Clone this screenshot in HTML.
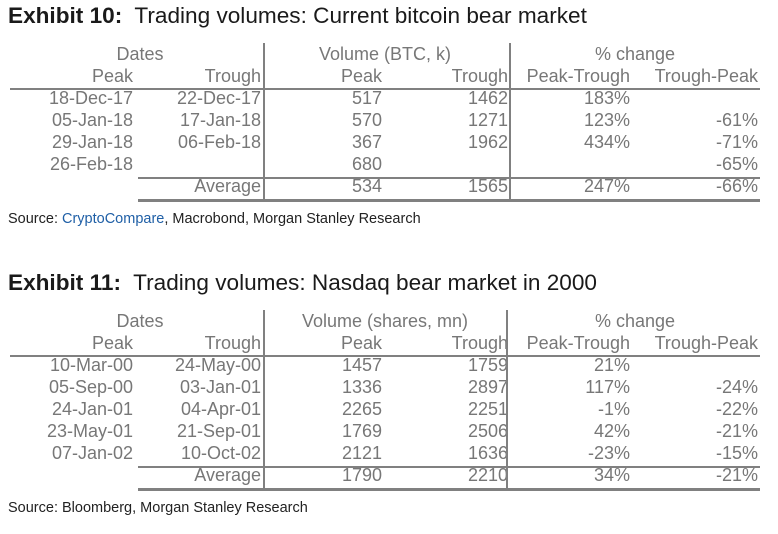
<!DOCTYPE html>
<html><head><meta charset="utf-8"><style>
body{margin:0;background:#fff;width:778px;height:534px;position:relative;overflow:hidden;font-family:"Liberation Sans",sans-serif}
.t{position:absolute;white-space:nowrap;font-size:18px;color:#777;line-height:20px}
.ttl{position:absolute;left:8px;font-size:22.6px;color:#1a1a1a;white-space:nowrap;line-height:24px}
.ttl b{font-weight:bold}
.src{position:absolute;left:8px;font-size:14.5px;color:#222;line-height:16px}
.ln{position:absolute;background:#808080}
</style></head><body>
<div class="ttl" style="top:4px"><b>Exhibit 10:</b>&nbsp; Trading volumes: Current bitcoin bear market</div>
<div class="src" style="top:211px">Source: <span style="color:#1f5fa6">CryptoCompare</span>, Macrobond, Morgan Stanley Research</div>
<div class="ttl" style="top:271px"><b>Exhibit 11:</b>&nbsp; Trading volumes: Nasdaq bear market in 2000</div>
<div class="src" style="top:500px">Source: Bloomberg, Morgan Stanley Research</div>
<div id="root"></div>
<script>
const colRight=[133,261,382,508,630,758];
const t1Rows=[["18-Dec-17","22-Dec-17","517","1462","183%",""],["05-Jan-18","17-Jan-18","570","1271","123%","-61%"],["29-Jan-18","06-Feb-18","367","1962","434%","-71%"],["26-Feb-18","","680","","","-65%"]];
const t1Avg=["","Average","534","1565","247%","-66%"];
const t2Rows=[["10-Mar-00","24-May-00","1457","1759","21%",""],["05-Sep-00","03-Jan-01","1336","2897","117%","-24%"],["24-Jan-01","04-Apr-01","2265","2251","-1%","-22%"],["23-May-01","21-Sep-01","1769","2506","42%","-21%"],["07-Jan-02","10-Oct-02","2121","1636","-23%","-15%"]];
const t2Avg=["","Average","1790","2210","34%","-21%"];
const sub=["Peak","Trough","Peak","Trough","Peak-Trough","Trough-Peak"];
const body=document.body;
function txt(s,x,y,align,name){
  const d=document.createElement('div');d.className='t';d.textContent=s;
  
  
  if(align==='r'){d.style.right=(778-x)+'px';}
  else{d.style.left=(x-200)+'px';d.style.width='400px';d.style.textAlign='center';}
  d.style.top=(y-10)+'px';body.appendChild(d);}
function ln(x,y,w,h,name){
  const d=document.createElement('div');d.className='ln';
  
  
  d.style.left=x+'px';d.style.top=y+'px';d.style.width=w+'px';d.style.height=h+'px';body.appendChild(d);}
function table(top,rows,avg,volLabel,prefix,vx2){
  txt("Dates",140,top,'c',prefix+'-dates-header');
  txt(volLabel,385,top,'c',prefix+'-volume-header');
  txt("% change",635,top,'c',prefix+'-change-header');
  sub.forEach((s,i)=>txt(s,colRight[i],top+22,'r',prefix+'-subheader'));
  const hl=top+34;
  ln(10,hl,750,2,prefix+'-header-rule');
  rows.forEach((r,j)=>r.forEach((c,i)=>{if(c)txt(c,colRight[i],top+44+j*22,'r',prefix+'-cell');}));
  const ay=top+44+rows.length*22;
  avg.forEach((c,i)=>{if(c)txt(c,colRight[i],ay,'r',prefix+'-average-cell');});
  ln(138,ay-9,622,2,prefix+'-average-rule');
  ln(138,ay+13,622,3,prefix+'-bottom-rule');
  ln(263,top-11,2,ay+16-(top-11),prefix+'-divider-1');
  ln(vx2,top-11,2,ay+16-(top-11),prefix+'-divider-2');
}
table(54,t1Rows,t1Avg,"Volume  (BTC, k)",'table-10',509);
table(321,t2Rows,t2Avg,"Volume (shares, mn)",'table-11',506);
</script>
</body></html>
